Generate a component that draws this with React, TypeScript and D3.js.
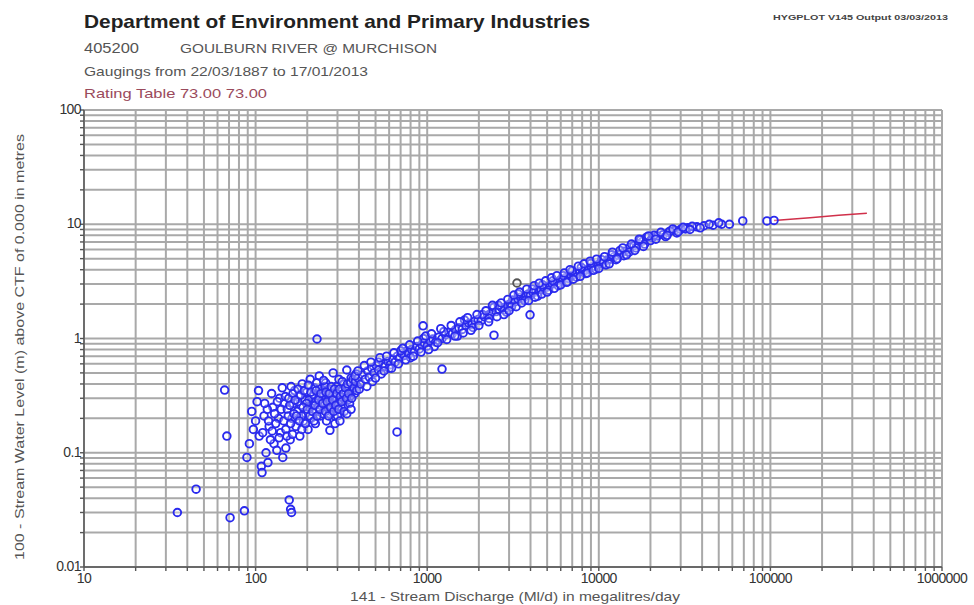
import React from 'react';
import * as d3 from 'd3';

// Gaugings: [discharge Ml/d, level m]
const lowGroup: [number, number][] = [
  [89, 0.091], [92, 0.12], [95, 0.23], [97, 0.16], [100, 0.19], [102, 0.28], [105, 0.14],
  [108, 0.076], [109, 0.067], [112, 0.21], [115, 0.1], [118, 0.082], [120, 0.17], [124, 0.33],
  [126, 0.25], [128, 0.12], [133, 0.105], [136, 0.2], [140, 0.15], [143, 0.37], [144, 0.091],
  [147, 0.27], [150, 0.11], [138, 0.3], [131, 0.18], [122, 0.13], [117, 0.24], [104, 0.35],
  [110, 0.15], [113, 0.27], [119, 0.19], [125, 0.155], [129, 0.22], [134, 0.28], [137, 0.135],
  [141, 0.24], [146, 0.19], [149, 0.31],
];

const cluster: [number, number][] = [
  [150, 0.16], [153, 0.24], [156, 0.3], [159, 0.13], [163, 0.2], [166, 0.27], [169, 0.35],
  [172, 0.17], [175, 0.23], [178, 0.31], [181, 0.14], [184, 0.26], [187, 0.4], [190, 0.19],
  [193, 0.29], [196, 0.22], [199, 0.34], [202, 0.16], [205, 0.25], [208, 0.44], [211, 0.2],
  [214, 0.31], [217, 0.27], [220, 0.37], [223, 0.18], [226, 0.23], [229, 0.29], [232, 0.33],
  [235, 0.47], [238, 0.21], [241, 0.26], [244, 0.3], [247, 0.35], [250, 0.24], [253, 0.28],
  [256, 0.41], [259, 0.19], [262, 0.32], [265, 0.27], [268, 0.36], [271, 0.157], [274, 0.23],
  [277, 0.3], [280, 0.26], [283, 0.5], [286, 0.34], [289, 0.21], [292, 0.29], [295, 0.38],
  [298, 0.25], [302, 0.31], [306, 0.44], [310, 0.28], [314, 0.22], [318, 0.35], [322, 0.3],
  [326, 0.4], [330, 0.26], [335, 0.33], [340, 0.53], [345, 0.29], [350, 0.37], [355, 0.31],
  [360, 0.45], [366, 0.35], [372, 0.4], [378, 0.33], [385, 0.49], [392, 0.38],
  [205, 0.29], [212, 0.26], [218, 0.32], [224, 0.28], [231, 0.25], [236, 0.31], [243, 0.28],
  [248, 0.32], [252, 0.26], [258, 0.3], [263, 0.25], [267, 0.31], [272, 0.28], [278, 0.33],
  [284, 0.27], [290, 0.31], [296, 0.29], [303, 0.27], [236, 0.36], [254, 0.38], [227, 0.41],
  [245, 0.22], [270, 0.22], [300, 0.21], [315, 0.25], [198, 0.27], [185, 0.21], [176, 0.28],
  [165, 0.33], [160, 0.18],
  [152, 0.14], [155, 0.21], [158, 0.26], [161, 0.38], [164, 0.145], [167, 0.22], [170, 0.29],
  [173, 0.21], [177, 0.36], [180, 0.19], [183, 0.32], [186, 0.16], [189, 0.25], [192, 0.35],
  [195, 0.18], [200, 0.24], [203, 0.39], [207, 0.21], [210, 0.34], [215, 0.23], [219, 0.19],
  [222, 0.26], [225, 0.35], [228, 0.21], [233, 0.29], [237, 0.24], [240, 0.33], [246, 0.27],
  [249, 0.43], [255, 0.23], [257, 0.34], [261, 0.28], [266, 0.21], [269, 0.33], [273, 0.25],
  [276, 0.38], [281, 0.29], [285, 0.23], [288, 0.36], [293, 0.26], [297, 0.33], [305, 0.24],
  [308, 0.36], [312, 0.31], [317, 0.28], [320, 0.42], [325, 0.33], [328, 0.23], [333, 0.37],
  [338, 0.3], [343, 0.4], [348, 0.33], [353, 0.27], [358, 0.41], [363, 0.3], [369, 0.44],
  [375, 0.37], [382, 0.42], [388, 0.35], [396, 0.45], [402, 0.36],
  [290, 0.18], [310, 0.19], [340, 0.22], [360, 0.24],
];

const band: [number, number][] = [
  [410, 0.4], [420, 0.48], [435, 0.44], [450, 0.52], [460, 0.46], [475, 0.55], [490, 0.5],
  [505, 0.58], [520, 0.53], [540, 0.49], [555, 0.6], [570, 0.57], [590, 0.63], [610, 0.59],
  [630, 0.66], [650, 0.62], [670, 0.7], [690, 0.67], [710, 0.74], [735, 0.71], [760, 0.78],
  [780, 0.73], [810, 0.8], [840, 0.76], [870, 0.85], [900, 0.81], [930, 0.88], [960, 0.92],
  [1000, 0.86], [1040, 0.95], [1080, 0.99], [1120, 0.93], [1170, 1.03], [1220, 1.0],
  [1280, 1.08], [1340, 1.13], [1400, 1.1], [1460, 1.19], [1530, 1.24], [1600, 1.2],
  [1680, 1.3], [1750, 1.36], [1820, 1.32], [1900, 1.42], [1980, 1.47], [2060, 1.43],
  [2150, 1.55], [2250, 1.6], [2350, 1.66], [2450, 1.88], [2520, 1.72], [2620, 1.8],
  [2720, 1.85], [2820, 1.78], [2930, 1.95], [3050, 2.02], [3150, 2.17], [3250, 2.1],
  [3380, 2.22], [3500, 2.3], [3620, 2.25], [3750, 2.38], [3880, 2.45], [4000, 2.4],
  [4150, 2.52], [4300, 2.6], [4450, 2.55], [4600, 2.68], [4800, 2.75], [4990, 2.82],
  [5150, 2.9], [5350, 3.0], [5550, 3.1], [5750, 3.05], [5950, 3.25], [6150, 3.3],
  [6400, 3.4], [6650, 3.35], [6900, 3.55], [7150, 3.6], [7450, 3.7], [7770, 3.82],
  [8050, 3.9], [8350, 3.95], [8700, 4.1], [9050, 4.2], [9400, 4.3], [9800, 4.4],
  [10200, 4.55], [10600, 4.5], [11200, 4.86], [11700, 4.95], [12300, 5.2], [12900, 5.4],
  [13500, 5.55], [14200, 5.8], [15200, 6.3], [16000, 6.5], [17000, 6.8], [18000, 7.1],
  [19000, 7.7], [20500, 7.6], [22000, 7.9], [23700, 8.1], [25500, 8.5], [27500, 8.8],
  [30000, 9.0], [33000, 9.3], [37300, 9.5], [41000, 9.7], [46300, 9.8], [52000, 10.0],
  [57700, 10.0], [69000, 10.7], [95500, 10.7], [105000, 10.8],
  [2100, 1.62], [2300, 1.5], [2600, 1.95], [2900, 1.7], [3100, 1.9], [3400, 2.45],
  [3700, 2.15], [4100, 2.7], [4400, 2.35], [4700, 2.95], [5100, 2.65], [5400, 3.2],
  [5800, 2.9], [6200, 3.55], [6600, 3.15], [7000, 3.9], [7400, 3.45], [7900, 4.2],
  [8400, 3.7], [9000, 4.55], [9600, 4.05], [10400, 4.9], [11000, 4.4], [11900, 5.4],
  [12600, 4.9], [13300, 5.9], [14000, 5.3], [15000, 5.7], [16500, 6.2], [17500, 7.3],
  [18500, 6.7], [20000, 7.2], [21000, 8.0], [24500, 7.8], [26000, 8.7], [28500, 8.4],
  [32000, 9.1], [35000, 9.6], [39000, 9.3], [44000, 10.0], [50000, 10.3],
  [950, 1.0], [1100, 0.85], [1250, 1.15], [1500, 1.05], [1650, 1.45], [1850, 1.25],
  [600, 0.55], [700, 0.78], [800, 0.68], [520, 0.62], [480, 0.42], [380, 0.47], [395, 0.52],
  [430, 0.58], [445, 0.38], [470, 0.62], [500, 0.45], [530, 0.68], [560, 0.52], [580, 0.7],
  [620, 0.55], [640, 0.75], [680, 0.6], [720, 0.82], [750, 0.65], [790, 0.88], [830, 0.7],
  [880, 0.95], [920, 0.76], [980, 1.05], [1020, 0.8],
  [1060, 1.1], [1150, 0.92], [1200, 1.22], [1300, 0.98], [1380, 1.3], [1450, 1.05],
  [1550, 1.4], [1620, 1.12], [1720, 1.52], [1800, 1.18], [1950, 1.62], [2000, 1.3],
  [2200, 1.75], [2280, 1.4], [2400, 1.95], [2550, 1.55], [2700, 2.05], [2800, 1.62],
  [2950, 2.2], [3000, 1.75],
  [3200, 2.4], [3300, 1.9], [3450, 2.55], [3550, 2.05], [3800, 2.7], [3900, 2.15],
  [4200, 2.9], [4250, 2.3], [4500, 3.05], [4650, 2.45], [4900, 3.2], [5000, 2.55],
  [5300, 3.4], [5500, 2.75], [5700, 3.55], [6000, 2.95], [6300, 3.75], [6500, 3.1],
  [6800, 4.0], [7100, 3.3], [7600, 4.3], [7800, 3.5], [8200, 4.5], [8600, 3.75],
  [8900, 4.75], [9300, 3.95], [9700, 4.95], [10000, 4.1],
  [10800, 5.2], [11500, 4.5], [12000, 5.7], [12800, 5.0], [13800, 6.2], [14500, 5.4],
  [15500, 6.7], [16200, 5.9], [17200, 7.4], [18200, 6.4], [19500, 7.9], [21500, 7.4],
  [23000, 8.5], [25000, 8.0], [27000, 9.1], [29000, 8.6], [31000, 9.4], [34000, 9.0],
];

const outliers: [number, number][] = [
  [35, 0.03], [45, 0.048], [71, 0.027], [86, 0.031], [66, 0.354], [68, 0.14],
  [157, 0.0386], [160, 0.032], [162, 0.03], [228, 0.99], [667, 0.152], [1220, 0.54],
  [946, 1.29], [2450, 1.07], [3975, 1.61],
];

const grayPoints: [number, number][] = [[3335, 3.06]];

const ratingTable: [number, number][] = [
  [105000, 10.8], [170000, 11.4], [250000, 12.0], [365000, 12.5],
];

const xTickLabels = [10, 100, 1000, 10000, 100000, 1000000];
const yTickLabels = [0.01, 0.1, 1, 10, 100];

const font = '"Liberation Sans", Arial, sans-serif';

export default function App() {
  const x = d3.scaleLog().domain([10, 1000000]).range([84, 942]);
  const y = d3.scaleLog().domain([0.01, 100]).range([567, 110]);

  const xGrid = x.ticks();
  const yGrid = y.ticks();

  const line = d3.line<[number, number]>()
    .x(d => x(d[0]))
    .y(d => y(d[1]));

  const points = [...lowGroup, ...cluster, ...band, ...outliers];

  return (
    <svg width={974} height={605} style={{ position: 'absolute', left: 0, top: 0, background: '#fff' }}
      fontFamily={font}>
      {/* header */}
      <text x={84} y={28} fontSize={19} fontWeight="bold" fill="#222" textLength={506}
        lengthAdjust="spacingAndGlyphs">
        Department of Environment and Primary Industries
      </text>
      <text x={773} y={20} fontSize={8} fontWeight="bold" fill="#444" textLength={175}
        lengthAdjust="spacingAndGlyphs">
        HYGPLOT V145  Output 03/03/2013
      </text>
      <text x={84} y={53} fontSize={14} fill="#555" textLength={55} lengthAdjust="spacingAndGlyphs">405200</text>
      <text x={180} y={53} fontSize={13} fill="#555" textLength={257} lengthAdjust="spacingAndGlyphs">
        GOULBURN RIVER @ MURCHISON
      </text>
      <text x={84} y={76} fontSize={13} fill="#555" textLength={284} lengthAdjust="spacingAndGlyphs">
        Gaugings from 22/03/1887 to 17/01/2013
      </text>
      <text x={84} y={98} fontSize={13} fill="#9a4a5c" textLength={183} lengthAdjust="spacingAndGlyphs">
        Rating Table  73.00  73.00
      </text>

      {/* grid */}
      <g stroke="#a9a9a9" strokeWidth={2}>
        {xGrid.map(v => (
          <line key={'gx' + v} x1={x(v)} x2={x(v)} y1={y(100)} y2={y(0.01)} />
        ))}
        {yGrid.map(v => (
          <line key={'gy' + v} x1={x(10)} x2={x(1000000)} y1={y(v)} y2={y(v)} />
        ))}
      </g>

      {/* axes */}
      <g stroke="#555" strokeWidth={1.4}>
        <line x1={x(10)} x2={x(10)} y1={y(100)} y2={y(0.01)} />
        <line x1={x(10)} x2={x(1000000)} y1={y(0.01)} y2={y(0.01)} />
        {yGrid.map(v => (
          <line key={'ty' + v} x1={x(10) - 4} x2={x(10)} y1={y(v)} y2={y(v)} />
        ))}
        {xGrid.map(v => (
          <line key={'tx' + v} x1={x(v)} x2={x(v)} y1={y(0.01)} y2={y(0.01) + 4} />
        ))}
      </g>

      <g fontSize={14} fill="#333">
        {yTickLabels.map(v => (
          <text key={'ly' + v} x={x(10) - 3} y={y(v) + 4} textAnchor="end" letterSpacing={-0.6}>
            {String(v)}
          </text>
        ))}
        {xTickLabels.map(v => (
          <text key={'lx' + v} x={x(v)} y={y(0.01) + 16} textAnchor="middle" letterSpacing={-0.6}>
            {String(v)}
          </text>
        ))}
      </g>

      <text x={515} y={601} fontSize={13} fill="#555" textAnchor="middle" textLength={330}
        lengthAdjust="spacingAndGlyphs">
        141 - Stream Discharge (Ml/d) in megalitres/day
      </text>
      <text transform="translate(24,347) rotate(-90)" fontSize={13} fill="#555" textAnchor="middle"
        textLength={426} lengthAdjust="spacingAndGlyphs">
        100 - Stream Water Level (m) above CTF of 0.000 in metres
      </text>

      {/* rating table */}
      <path d={line(ratingTable) ?? ''} fill="none" stroke="#d0304a" strokeWidth={1.4} />

      {/* gaugings */}
      <g stroke="#2a2aee" strokeWidth={1.9} fill="rgba(255,255,255,0.3)">
        {points.map((d, i) => (
          <circle key={'p' + i} cx={x(d[0])} cy={y(d[1])} r={3.8} />
        ))}
      </g>
      <g stroke="#555" strokeWidth={1.9} fill="rgba(255,255,255,0.3)">
        {grayPoints.map((d, i) => (
          <circle key={'g' + i} cx={x(d[0])} cy={y(d[1])} r={3.8} />
        ))}
      </g>
    </svg>
  );
}
